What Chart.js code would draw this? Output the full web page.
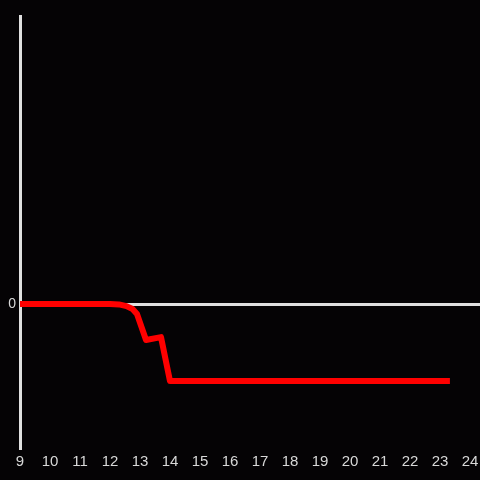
<!DOCTYPE html>
<html>
<head>
<meta charset="utf-8">
<script src="https://cdn.jsdelivr.net/npm/chart.js@4"></script>
<style>
  html, body { margin: 0; padding: 0; background: #050305; }
  #wrap { width: 480px; height: 480px; }
</style>
</head>
<body>
<div id="wrap"><canvas id="c" width="480" height="480"></canvas></div>
<script>
const xValues = [9, 12, 12.3, 12.55, 12.75, 12.9, 13.2, 13.7, 14.0, 23.33];
const yValues = [0, 0, -0.003, -0.015, -0.035, -0.07, -0.25, -0.23, -0.535, -0.535];
const xTicks = [9, 10, 11, 12, 13, 14, 15, 16, 17, 18, 19, 20, 21, 22, 23, 24];
const yTicks = [0];

const points = xValues.map((x, i) => ({ x: x, y: yValues[i] }));

new Chart(document.getElementById('c'), {
  type: 'line',
  data: {
    datasets: [{
      data: points,
      borderColor: '#ff0000',
      borderWidth: 6,
      pointRadius: 0,
      tension: 0,
      borderJoinStyle: 'round',
      fill: false
    }]
  },
  options: {
    responsive: false,
    animation: false,
    layout: { padding: { top: 16, right: 0, left: 0, bottom: 0 } },
    plugins: { legend: { display: false }, tooltip: { enabled: false } },
    scales: {
      x: {
        type: 'linear',
        min: 9,
        max: 24.333,
        afterBuildTicks: (s) => { s.ticks = xTicks.map(v => ({ value: v })); },
        afterFit: (s) => { s.height = 32; s.paddingRight = 0; s.paddingLeft = 0; },
        grid: { display: false, drawTicks: false },
        border: { display: false },
        ticks: { color: '#d8d8d8', font: { family: 'Liberation Sans, Arial, sans-serif', size: 15 }, padding: 5, maxRotation: 0, autoSkip: false }
      },
      y: {
        min: -1,
        max: 2,
        afterBuildTicks: (s) => { s.ticks = yTicks.map(v => ({ value: v })); },
        afterFit: (s) => { s.width = 20; s.paddingTop = 0; s.paddingBottom = 0; },
        grid: { color: '#e0e0e0', lineWidth: 3, drawTicks: false },
        border: { display: true, color: '#e0e0e0', width: 3 },
        ticks: { color: '#d8d8d8', font: { family: 'Liberation Sans, Arial, sans-serif', size: 14 }, padding: 4 }
      }
    }
  }
});
</script>
</body>
</html>
